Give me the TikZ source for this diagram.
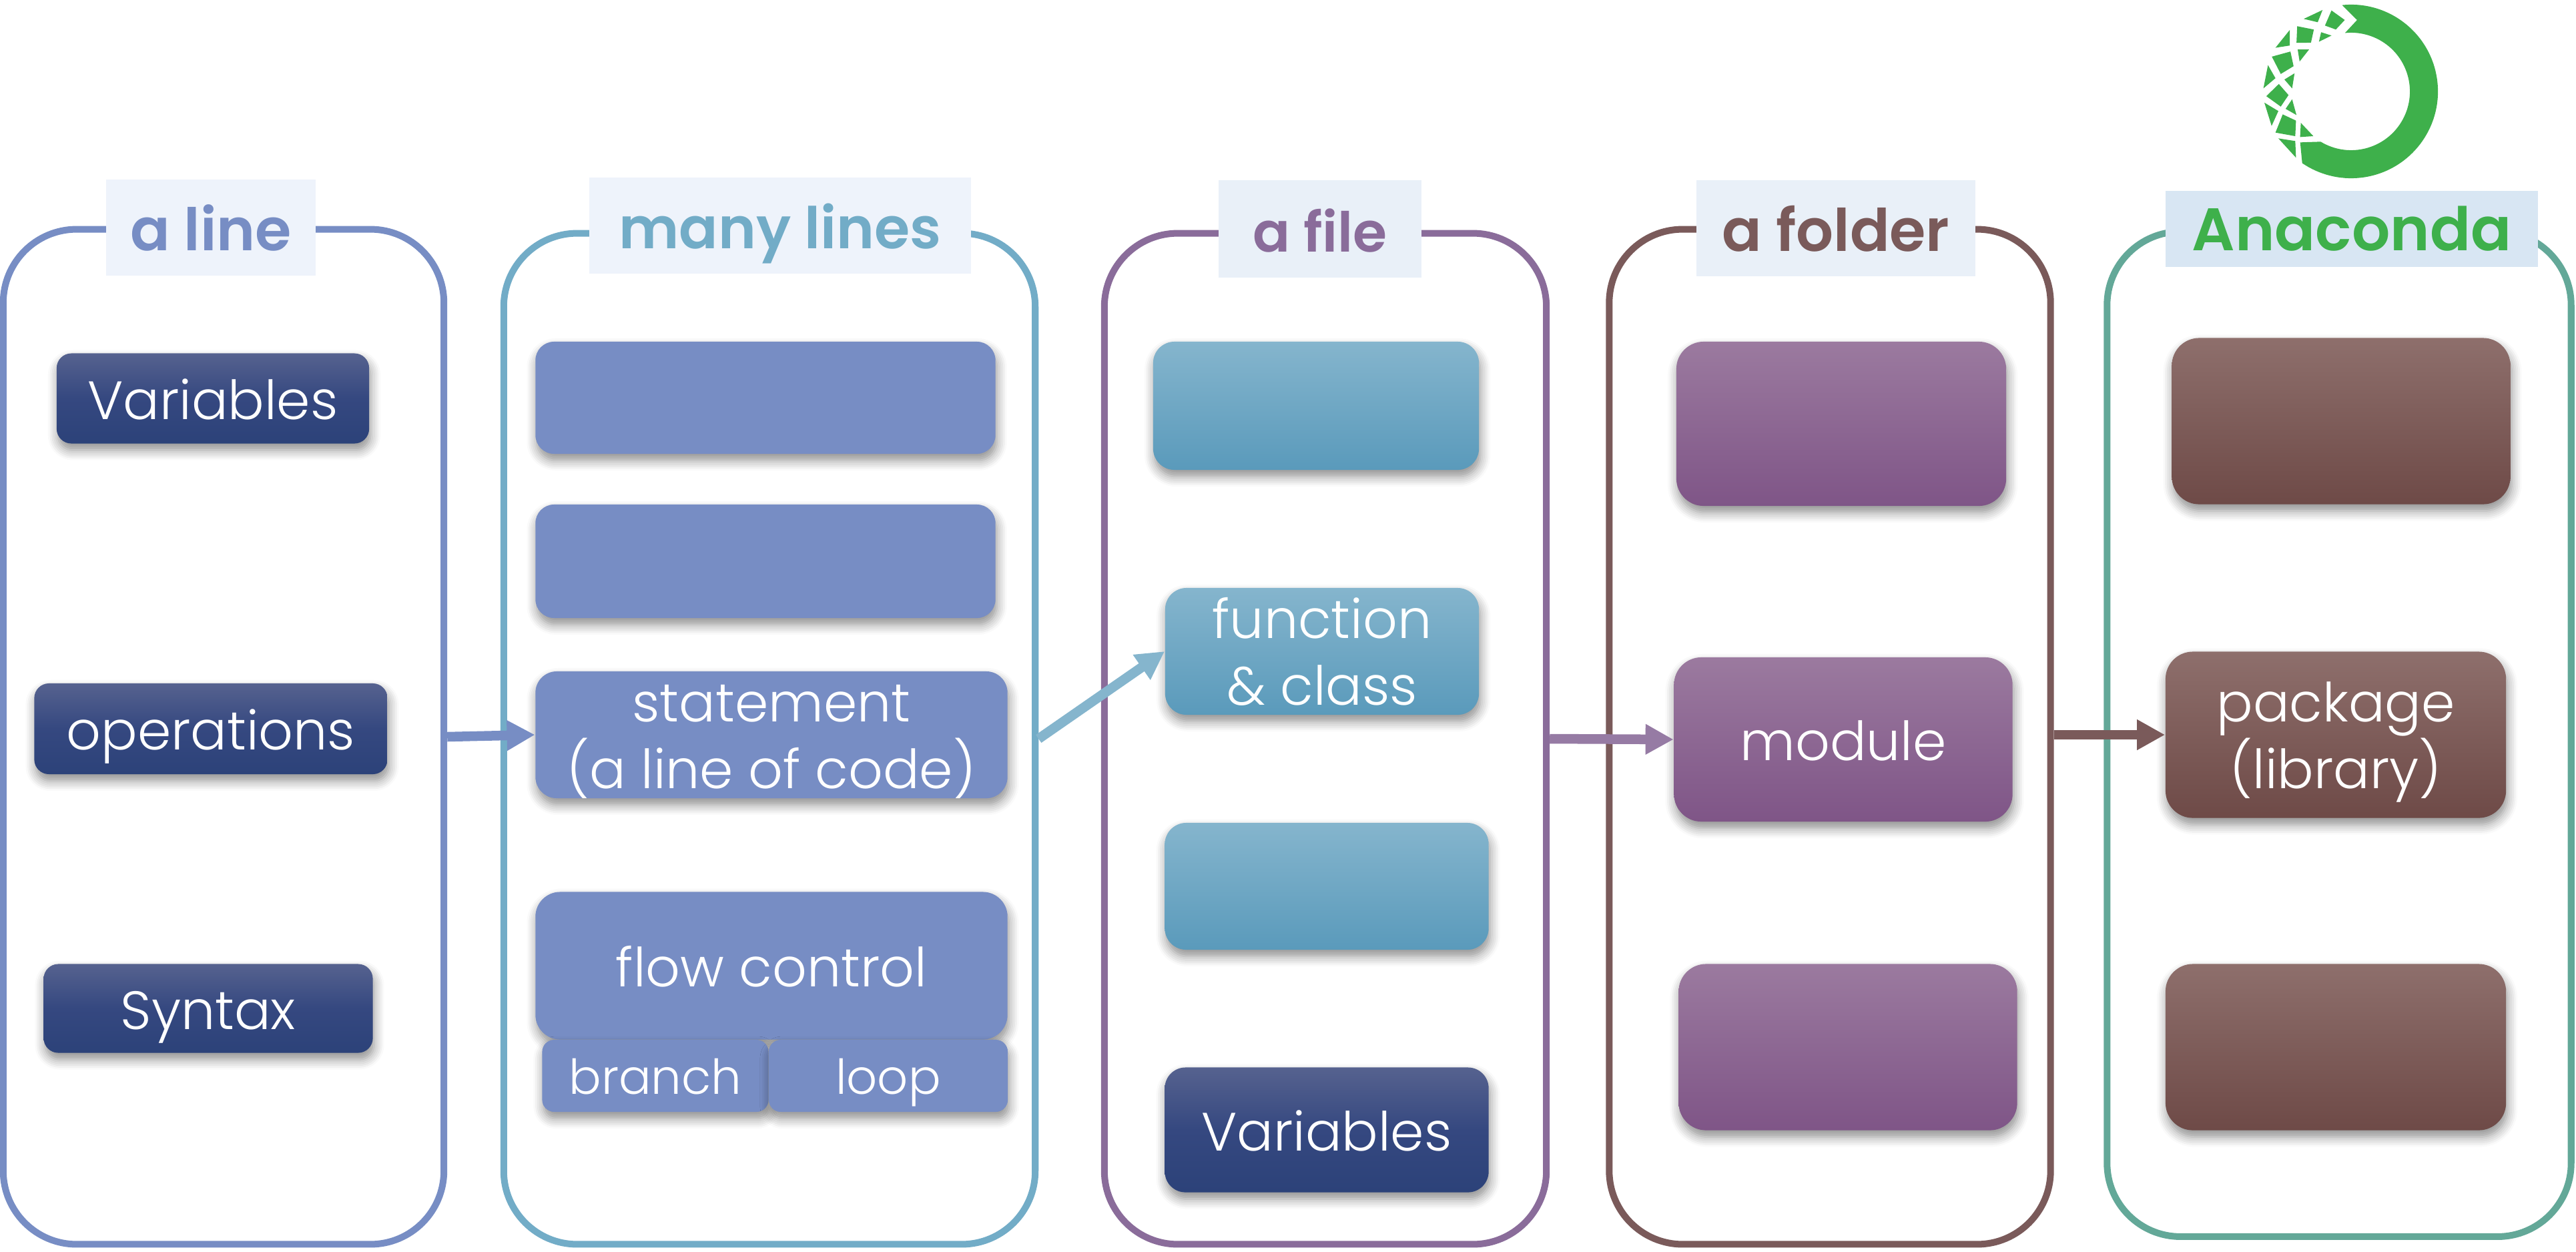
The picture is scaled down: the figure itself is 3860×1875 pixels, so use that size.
\documentclass[tikz,border=0pt]{standalone}
\usepackage{fontspec}
\setmainfont{Poppins}[UprightFont=* Light,BoldFont=* SemiBold]
\usepackage{xcolor}
\usetikzlibrary{arrows.meta, positioning, shadows.blur}
\definecolor{lineblue}{HTML}{778DC4}
\definecolor{manyteal}{HTML}{72ACC7}
\definecolor{filepurple}{HTML}{8A6C9A}
\definecolor{folderbrown}{HTML}{7A5A5A}
\definecolor{anagreen}{HTML}{63A898}
\definecolor{logogreen}{HTML}{3EB04B}
\definecolor{navytop}{HTML}{56628F}
\definecolor{navymid}{HTML}{354880}
\definecolor{navylow}{HTML}{2C4279}
\definecolor{tealtop}{HTML}{85B5CD}
\definecolor{teallow}{HTML}{5A9ABB}
\definecolor{purpletop}{HTML}{9B7A9F}
\definecolor{purplelow}{HTML}{7F5587}
\definecolor{browntop}{HTML}{8E6F6C}
\definecolor{brownlow}{HTML}{6E4A47}
\definecolor{titlepale}{HTML}{EEF3FB}
\definecolor{titlemid}{HTML}{E9F0F8}
\definecolor{titledeep}{HTML}{D8E6F3}
\tikzset{
  framebox/.style={draw, line width=0.1cm, rounded corners=1.1cm},
  titlebox/.style={inner sep=0pt, font=\fontsize{25}{30}\selectfont\bfseries, text height=0.89cm, text depth=0.2cm},
  tile/.style={inner sep=0pt, text=white, align=center, text height=0.82cm, text depth=0.2cm,
    font=\fontsize{23}{28.2}\selectfont,
    blur shadow={shadow xshift=0.02cm, shadow yshift=-0.1cm, shadow blur steps=6, shadow blur radius=0.15cm, shadow opacity=45}},
  twolines/.style={text height=1.7cm, text depth=0.1cm},
  navytile/.style={tile, top color=navytop, bottom color=navylow, middle color=navymid},
  plaintile/.style={tile, fill=lineblue},
  tealtile/.style={tile, top color=tealtop, bottom color=teallow},
  purpletile/.style={tile, top color=purpletop, bottom color=purplelow, rounded corners=0.41cm},
  browntile/.style={tile, top color=browntop, bottom color=brownlow, rounded corners=0.41cm},
  smalltile/.style={plaintile, rounded corners=0.18cm, text height=0.74cm, font=\fontsize{20.5}{24}\selectfont},
  linkarrow/.style={-{Triangle[length=0.42cm,width=0.43cm]}, line width=0.145cm},
}
\begin{document}
\begin{tikzpicture}[x=0.01cm, y=-0.01cm]
  \useasboundingbox (0,0) rectangle (3860,1875);
  % frames
  \node[framebox, lineblue, minimum width=6.6cm, minimum height=15.2cm] (lineframe) at (335,1104) {};
  \node[framebox, manyteal, minimum width=7.96cm, minimum height=15.14cm] (manyframe) at (1153,1107) {};
  \node[framebox, filepurple, minimum width=6.62cm, minimum height=15.14cm] (fileframe) at (1986,1107) {};
  \node[framebox, folderbrown, minimum width=6.61cm, minimum height=15.2cm] (folderframe) at (2742,1104) {};
  \node[framebox, anagreen, minimum width=6.95cm, minimum height=15.05cm] (anaframe) at (3505,1100) {};
  % titles
  \node[titlebox, fill=titlepale, text=lineblue, minimum width=3.13cm, minimum height=1.43cm] (linetitle) at (316,341) {a line};
  \node[titlebox, fill=titlepale, text=manyteal, minimum width=5.71cm, minimum height=1.44cm, font=\fontsize{24.5}{30}\selectfont\bfseries] (manytitle) at (1169,338) {many lines};
  \node[titlebox, fill=titlemid, text=filepurple, minimum width=3.03cm, minimum height=1.45cm, font=\fontsize{23.5}{30}\selectfont\bfseries] (filetitle) at (1978,343) {a file};
  \node[titlebox, fill=titlemid, text=folderbrown, minimum width=4.17cm, minimum height=1.43cm] (foldertitle) at (2751,342) {a folder};
  \node[titlebox, fill=titledeep, text=logogreen, minimum width=5.58cm, minimum height=1.14cm, text height=0.84cm, font=\fontsize{25.6}{30}\selectfont\bfseries] (anatitle) at (3524,343) {Anaconda};
  % a line
  \node[navytile, rounded corners=0.22cm, minimum width=4.68cm, minimum height=1.35cm] (varone) at (319,597) {Variables};
  \node[navytile, rounded corners=0.22cm, minimum width=5.29cm, minimum height=1.36cm] (operations) at (316,1092) {operations};
  \node[navytile, rounded corners=0.22cm, minimum width=4.93cm, minimum height=1.33cm] (syntax) at (312,1511) {Syntax};
  % many lines
  \node[plaintile, rounded corners=0.28cm, minimum width=6.89cm, minimum height=1.68cm] (manya) at (1147,596) {};
  \node[plaintile, rounded corners=0.28cm, minimum width=6.89cm, minimum height=1.7cm] (manyb) at (1147,841) {};
  \node[plaintile, twolines, rounded corners=0.32cm, minimum width=7.07cm, minimum height=1.9cm] (statement) at (1156,1101) {statement\\(a line of code)};
  \node[plaintile, rounded corners=0.37cm, minimum width=7.07cm, minimum height=2.21cm] (flow) at (1156,1447) {flow control};
  \node[smalltile, minimum width=3.39cm, minimum height=1.08cm] (branch) at (982,1612) {branch};
  \node[smalltile, minimum width=3.58cm, minimum height=1.08cm] (loop) at (1331,1612) {loop};
  % a file
  \node[tealtile, rounded corners=0.32cm, minimum width=4.88cm, minimum height=1.92cm] (filea) at (1972,608) {};
  \node[tealtile, twolines, rounded corners=0.32cm, minimum width=4.7cm, minimum height=1.9cm] (function) at (1981,976) {function\\\& class};
  \node[tealtile, rounded corners=0.32cm, minimum width=4.85cm, minimum height=1.9cm] (filec) at (1988,1328) {};
  \node[navytile, rounded corners=0.31cm, minimum width=4.85cm, minimum height=1.87cm] (vartwo) at (1988,1693) {Variables};
  % a folder
  \node[purpletile, minimum width=4.94cm, minimum height=2.46cm] (foldera) at (2759,635) {};
  \node[purpletile, minimum width=5.07cm, minimum height=2.46cm] (module) at (2762,1108) {module};
  \node[purpletile, minimum width=5.07cm, minimum height=2.49cm] (folderc) at (2769,1569) {};
  % anaconda
  \node[browntile, minimum width=5.07cm, minimum height=2.49cm] (anaa) at (3508,631) {};
  \node[browntile, twolines, minimum width=5.1cm, minimum height=2.49cm] (package) at (3500,1101) {package\\(library)};
  \node[browntile, minimum width=5.1cm, minimum height=2.49cm] (anac) at (3500,1569) {};
  % links
  \draw[linkarrow, lineblue] (lineframe.east) -- (statement.west);
  \draw[linkarrow, tealtop] (manyframe.east) -- (function.west);
  \draw[linkarrow, filepurple!90!white] (fileframe.east) -- (module.west);
  \draw[linkarrow, folderbrown] (folderframe.east |- package.west) -- (package.west);
  % logo
  \begin{scope}[shift={(3523,137)}, x=1cm, y=1cm]
    \fill[logogreen] (96:1.3cm) arc (96:-124.3:1.3cm) -- (-0.763,-0.763)
      -- (-121.2:0.88cm) arc (-121.2:96:0.88cm) -- (0.089,1.07) -- cycle;
  \end{scope}
  \begin{scope}[shift={(3300,0)}, x=0.003623cm, y=-0.003333cm]
    \fill[logogreen] (420,85) -- (498,45) -- (478,100) -- cycle
      (535,47) -- (590,90) -- (553,133) -- (508,115) -- cycle
      (393,118) -- (462,133) -- (450,192) -- (390,193) -- cycle
      (492,145) -- (535,160) -- (483,188) -- cycle
      (362,135) -- (362,205) -- (303,215) -- cycle
      (395,223) -- (442,223) -- (403,277) -- cycle
      (288,255) -- (365,232) -- (378,298) -- (325,333) -- cycle
      (382,330) -- (372,398) -- (340,358) -- cycle
      (272,293) -- (303,352) -- (253,398) -- cycle
      (317,378) -- (357,428) -- (325,480) -- (265,433) -- cycle
      (372,447) -- (390,518) -- (345,490) -- cycle
      (257,462) -- (315,500) -- (287,567) -- cycle
      (333,515) -- (388,543) -- (385,613) -- (303,597) -- cycle
      (408,553) -- (460,613) -- (405,617) -- cycle
      (315,623) -- (385,635) -- (388,710) -- cycle;
  \end{scope}
\end{tikzpicture}
\end{document}
